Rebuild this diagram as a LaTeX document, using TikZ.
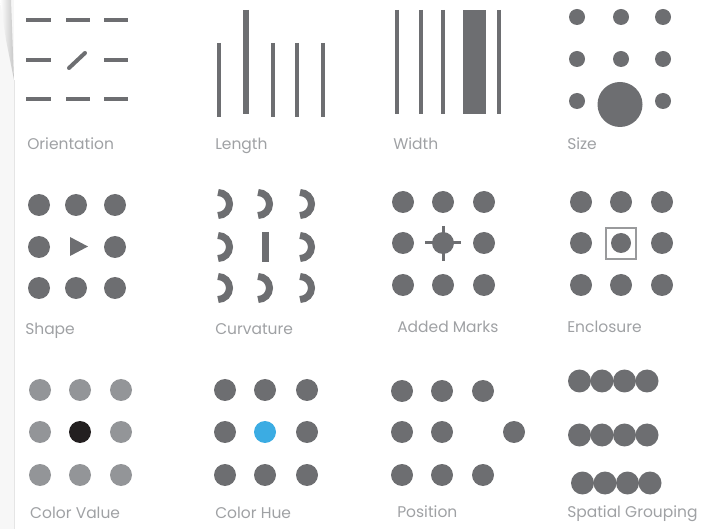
\documentclass[tikz,border=0pt]{standalone}
\usepackage{fontspec}
\setmainfont{Poppins}
\usetikzlibrary{arrows.meta}
\definecolor{markgray}{HTML}{6D6E71}
\definecolor{lightdot}{HTML}{939598}
\definecolor{darkdot}{HTML}{231F20}
\definecolor{huedot}{HTML}{3BACE3}
\definecolor{labelgray}{HTML}{9FA1A4}
\tikzset{
  bar/.style={draw=markgray,line width=4pt},
  dot/.style={fill=markgray},
  lbl/.style={anchor=base west,inner sep=0pt,text=labelgray,font=\fontsize{15.5}{18}\selectfont},
}
\begin{document}
\begin{tikzpicture}[x=1pt,y=-1pt,line width=.5pt]
\path[use as bounding box] (0,0) rectangle (710,529);
% page edge
\fill[black!3] (0,0) rectangle (14,529);
\shade[left color=white,right color=gray!45] (0,0) -- (11,0) -- (14,80) -- (6,40) -- cycle;
\draw[black!10] (14,80) -- (14,529);
% orientation
\draw[bar] (26,20) -- (51,20);
\draw[bar] (66,20) -- (90,20);
\draw[bar] (104,20) -- (128,20);
\draw[bar] (26,60) -- (51,60);
\draw[bar,line cap=round] (69,68) -- (85,53);
\draw[bar] (104,60) -- (128,60);
\draw[bar] (26,99) -- (51,99);
\draw[bar] (66,99) -- (90,99);
\draw[bar] (104,99) -- (128,99);
\node[lbl] (orient) at (27,150) {Orientation};
% length
\draw[bar] (219,43) -- (219,117);
\draw[bar,line width=5.5pt] (246,10) -- (246,114);
\draw[bar] (273,43) -- (273,117);
\draw[bar] (297,43) -- (297,117);
\draw[bar] (323,43) -- (323,117);
\node[lbl] (length) at (215,150) {Length};
% width
\draw[bar] (397,10) -- (397,114);
\draw[bar] (421,10) -- (421,114);
\draw[bar] (443,10) -- (443,114);
\fill[markgray] (463,10) rectangle (486,114);
\draw[bar] (499,10) -- (499,114);
\node[lbl] (width) at (393,150) {Width};
% size
\fill[dot] (577,17) circle (8);
\fill[dot] (621,17) circle (8);
\fill[dot] (663,17) circle (8);
\fill[dot] (577,59) circle (8);
\fill[dot] (621,59) circle (8);
\fill[dot] (663,59) circle (8);
\fill[dot] (577,101) circle (8);
\fill[dot] (620,104.5) circle (22.5);
\fill[dot] (663,101) circle (8);
\node[lbl] (size) at (567,150) {Size};
% shape
\fill[dot] (39,205) circle (11);
\fill[dot] (76,205) circle (11);
\fill[dot] (115,205) circle (11);
\fill[dot] (39,247) circle (11);
\fill[markgray] (70,237) -- (88,246.5) -- (70,256) -- cycle;
\fill[dot] (115,247) circle (11);
\fill[dot] (39,288) circle (11);
\fill[dot] (76,288) circle (11);
\fill[dot] (115,288) circle (11);
\node[lbl] (shape) at (25,335) {Shape};
% curvature
\draw[markgray,line width=7pt] (218,215.5) arc[start angle=90,end angle=-90,radius=11.5];
\draw[markgray,line width=7pt] (258,215.5) arc[start angle=90,end angle=-90,radius=11.5];
\draw[markgray,line width=7pt] (300,215.5) arc[start angle=90,end angle=-90,radius=11.5];
\draw[markgray,line width=7pt] (218,258.5) arc[start angle=90,end angle=-90,radius=11.5];
\draw[markgray,line width=7pt] (265,232) -- (265,262);
\draw[markgray,line width=7pt] (300,258.5) arc[start angle=90,end angle=-90,radius=11.5];
\draw[markgray,line width=7pt] (218,299.5) arc[start angle=90,end angle=-90,radius=11.5];
\draw[markgray,line width=7pt] (258,299.5) arc[start angle=90,end angle=-90,radius=11.5];
\draw[markgray,line width=7pt] (300,299.5) arc[start angle=90,end angle=-90,radius=11.5];
\node[lbl] (curv) at (215,335) {Curvature};
% added marks
\fill[dot] (403,202) circle (11);
\fill[dot] (443,202) circle (11);
\fill[dot] (484,202) circle (11);
\fill[dot] (403,243) circle (11);
\fill[dot] (443,243) circle (11);
\draw[markgray,line width=3pt] (425,243) -- (461,243);
\draw[markgray,line width=3pt] (443,226) -- (443,261);
\fill[dot] (484,243) circle (11);
\fill[dot] (403,285) circle (11);
\fill[dot] (443,285) circle (11);
\fill[dot] (484,285) circle (11);
\node[lbl] (added) at (397,333) {Added Marks};
% enclosure
\fill[dot] (581,202) circle (11);
\fill[dot] (621,202) circle (11);
\fill[dot] (662,202) circle (11);
\fill[dot] (581,243) circle (11);
\fill[dot] (621,243) circle (10);
\draw[markgray!70,line width=1.8pt] (606,228) rectangle (636,259);
\fill[dot] (662,243) circle (11);
\fill[dot] (581,285) circle (11);
\fill[dot] (621,285) circle (11);
\fill[dot] (662,285) circle (11);
\node[lbl] (encl) at (567,333) {Enclosure};
% color value
\fill[lightdot] (40,390) circle (11);
\fill[lightdot] (80,390) circle (11);
\fill[lightdot] (121,390) circle (11);
\fill[lightdot] (40,432) circle (11);
\fill[darkdot] (80,432) circle (11);
\fill[lightdot] (121,432) circle (11);
\fill[lightdot] (40,475) circle (11);
\fill[lightdot] (80,475) circle (11);
\fill[lightdot] (121,475) circle (11);
\node[lbl] (cvalue) at (30,518) {Color Value};
% color hue
\fill[dot] (225,390) circle (11);
\fill[dot] (265,390) circle (11);
\fill[dot] (307,390) circle (11);
\fill[dot] (225,432) circle (11);
\fill[huedot] (265,432) circle (11);
\fill[dot] (307,432) circle (11);
\fill[dot] (225,475) circle (11);
\fill[dot] (265,475) circle (11);
\fill[dot] (307,475) circle (11);
\node[lbl] (chue) at (215,518) {Color Hue};
% position
\fill[dot] (402,391) circle (11);
\fill[dot] (442,391) circle (11);
\fill[dot] (483,391) circle (11);
\fill[dot] (402,432) circle (11);
\fill[dot] (442,432) circle (11);
\fill[dot] (514,432) circle (11);
\fill[dot] (402,475) circle (11);
\fill[dot] (442,475) circle (11);
\fill[dot] (483,475) circle (11);
\node[lbl] (posit) at (397,517) {Position};
% spatial grouping
\fill[dot] (579.5,381) circle (11.5);
\fill[dot] (602,381) circle (11.5);
\fill[dot] (624.5,381) circle (11.5);
\fill[dot] (647,381) circle (11.5);
\fill[dot] (579.5,435) circle (11.5);
\fill[dot] (602,435) circle (11.5);
\fill[dot] (624.5,435) circle (11.5);
\fill[dot] (647,435) circle (11.5);
\fill[dot] (582.5,483) circle (11.5);
\fill[dot] (605,483) circle (11.5);
\fill[dot] (627.5,483) circle (11.5);
\fill[dot] (650,483) circle (11.5);
\node[lbl] (group) at (567,517) {Spatial Grouping};
\end{tikzpicture}
\end{document}
